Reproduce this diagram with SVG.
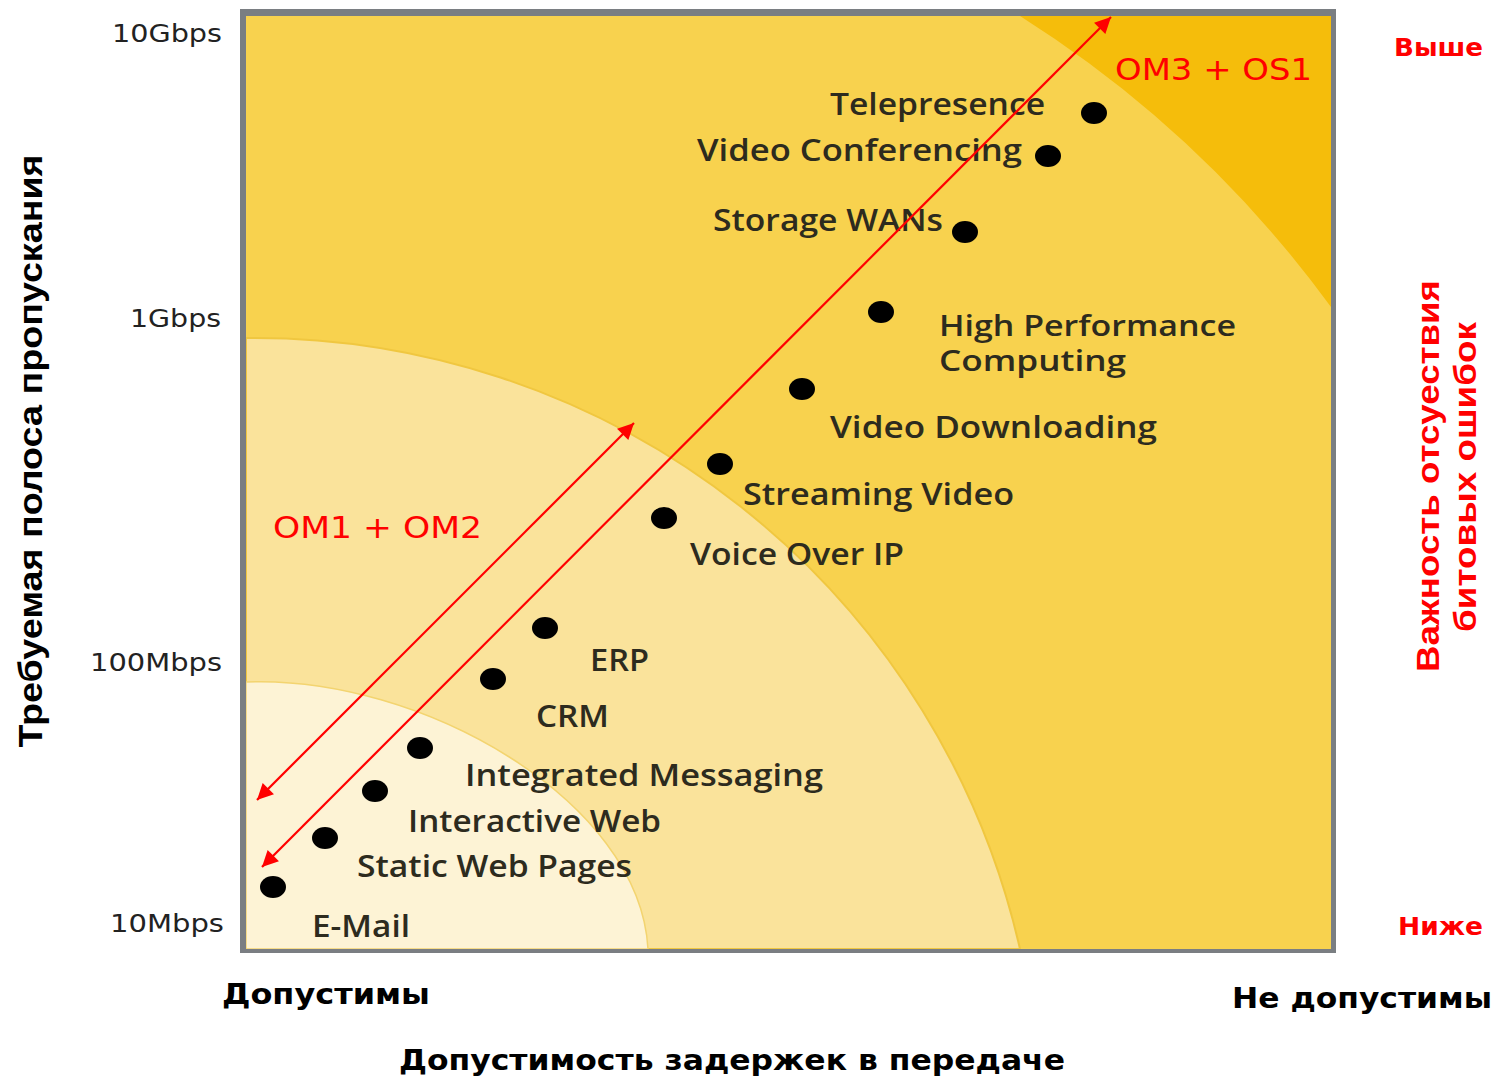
<svg xmlns="http://www.w3.org/2000/svg" width="1495" height="1077" viewBox="0 0 1495 1077">
<style>
.lbl{font-family:"Open Sans","Liberation Sans",sans-serif;font-weight:600;font-size:31px;fill:#2d2b1e}
.lbs{font-size:28px}
.tick{font-family:"DejaVu Sans","Liberation Sans",sans-serif;font-size:24px;fill:#222}
.ax{font-family:"Liberation Sans","DejaVu Sans",sans-serif;font-weight:bold;font-size:34px;fill:#000}
.axr{font-family:"Liberation Sans","DejaVu Sans",sans-serif;font-weight:bold;font-size:32px;fill:#ff0000}
.bt{font-family:"DejaVu Sans","Liberation Sans",sans-serif;font-weight:bold;font-size:29px;fill:#000}
.rb{font-family:"DejaVu Sans","Liberation Sans",sans-serif;font-weight:bold;font-size:24px;fill:#ff0000}
.om{font-family:"DejaVu Sans","Liberation Sans",sans-serif;font-size:30px;fill:#ff0000}
.dot{fill:#000}
.arr{stroke:#ff0000;stroke-width:2.2;fill:none;marker-start:url(#ah);marker-end:url(#ah)}
</style>
<defs>
<marker id="ah" viewBox="0 0 10 10" refX="10" refY="5" markerWidth="22" markerHeight="16" markerUnits="userSpaceOnUse" orient="auto-start-reverse">
<path d="M0,0 L10,5 L0,10 z" fill="#ff0000"/>
</marker>
<clipPath id="plot"><rect x="246" y="16" width="1085" height="933"/></clipPath>
</defs>
<rect width="1495" height="1077" fill="#ffffff"/>
<g id="chart">
<rect x="240" y="9" width="1096" height="944" fill="#7a7e82"/>
<g clip-path="url(#plot)">
<rect x="246" y="16" width="1085" height="933" fill="#f8d24e"/>
<path d="M1020,16 A1137,1137 0 0 1 1331,307 L1331,16 Z" fill="#f5bd0b"/>
<path d="M246,338 A785,785 0 0 1 1020,949 L246,949 Z" fill="#fae39b" stroke="#f0c740" stroke-width="2"/>
<path d="M246,682 C420,675 640,800 648,949 L246,949 Z" fill="#fdf3d5" stroke="#f3d470" stroke-width="1.5"/>
</g>
</g>
<g id="yticks">
<text class="tick" x="222" y="42" text-anchor="end" textLength="110" lengthAdjust="spacingAndGlyphs">10Gbps</text>
<text class="tick" x="221" y="327" text-anchor="end" textLength="91" lengthAdjust="spacingAndGlyphs">1Gbps</text>
<text class="tick" x="222" y="671" text-anchor="end" textLength="132" lengthAdjust="spacingAndGlyphs">100Mbps</text>
<text class="tick" x="224" y="932" text-anchor="end" textLength="114" lengthAdjust="spacingAndGlyphs">10Mbps</text>
</g>
<text class="ax" transform="translate(42,451) rotate(-90)" text-anchor="middle" textLength="593" lengthAdjust="spacingAndGlyphs">Требуемая полоса пропускания</text>
<text class="axr" transform="translate(1439,476) rotate(-90)" text-anchor="middle" textLength="392" lengthAdjust="spacingAndGlyphs">Важность отсуествия</text>
<text class="axr" transform="translate(1476,477) rotate(-90)" text-anchor="middle" textLength="310" lengthAdjust="spacingAndGlyphs">битовых ошибок</text>
<text class="rb" x="1394" y="56" textLength="89" lengthAdjust="spacingAndGlyphs">Выше</text>
<text class="rb" x="1398" y="935" textLength="85" lengthAdjust="spacingAndGlyphs">Ниже</text>
<text class="bt" x="222" y="1004" textLength="208" lengthAdjust="spacingAndGlyphs">Допустимы</text>
<text class="bt" x="1232" y="1008" textLength="260" lengthAdjust="spacingAndGlyphs">Не допустимы</text>
<text class="bt" x="399" y="1070" textLength="666" lengthAdjust="spacingAndGlyphs">Допустимость задержек в передаче</text>
<g id="n-telepresence"><ellipse class="dot" cx="1094" cy="113" rx="13" ry="11"/><text class="lbl" x="830" y="115" textLength="215" lengthAdjust="spacingAndGlyphs">Telepresence</text></g>
<g id="n-videoconf"><ellipse class="dot" cx="1048" cy="156" rx="13" ry="11"/><text class="lbl" x="697" y="161" textLength="325" lengthAdjust="spacingAndGlyphs">Video Conferencing</text></g>
<g id="n-storage"><ellipse class="dot" cx="965" cy="232" rx="13" ry="11"/><text class="lbl" x="713" y="231" textLength="230" lengthAdjust="spacingAndGlyphs">Storage WANs</text></g>
<g id="n-hpc"><ellipse class="dot" cx="881" cy="312" rx="13" ry="11"/><text class="lbl lbs" x="939" y="336" textLength="297" lengthAdjust="spacingAndGlyphs">High Performance</text><text class="lbl lbs" x="939" y="371" textLength="187" lengthAdjust="spacingAndGlyphs">Computing</text></g>
<g id="n-videodl"><ellipse class="dot" cx="802" cy="389" rx="13" ry="11"/><text class="lbl" x="830" y="438" textLength="327" lengthAdjust="spacingAndGlyphs">Video Downloading</text></g>
<g id="n-streaming"><ellipse class="dot" cx="720" cy="464" rx="13" ry="11"/><text class="lbl" x="743" y="505" textLength="271" lengthAdjust="spacingAndGlyphs">Streaming Video</text></g>
<g id="n-voip"><ellipse class="dot" cx="664" cy="518" rx="13" ry="11"/><text class="lbl" x="690" y="565" textLength="214" lengthAdjust="spacingAndGlyphs">Voice Over IP</text></g>
<g id="n-erp"><ellipse class="dot" cx="545" cy="628" rx="13" ry="11"/><text class="lbl" x="590" y="671" textLength="59" lengthAdjust="spacingAndGlyphs">ERP</text></g>
<g id="n-crm"><ellipse class="dot" cx="493" cy="679" rx="13" ry="11"/><text class="lbl" x="536" y="727" textLength="73" lengthAdjust="spacingAndGlyphs">CRM</text></g>
<g id="n-intmsg"><ellipse class="dot" cx="420" cy="748" rx="13" ry="11"/><text class="lbl" x="465" y="786" textLength="358" lengthAdjust="spacingAndGlyphs">Integrated Messaging</text></g>
<g id="n-intweb"><ellipse class="dot" cx="375" cy="791" rx="13" ry="11"/><text class="lbl" x="408" y="832" textLength="253" lengthAdjust="spacingAndGlyphs">Interactive Web</text></g>
<g id="n-static"><ellipse class="dot" cx="325" cy="838" rx="13" ry="11"/><text class="lbl" x="357" y="877" textLength="275" lengthAdjust="spacingAndGlyphs">Static Web Pages</text></g>
<g id="n-email"><ellipse class="dot" cx="273" cy="887" rx="13" ry="11"/><text class="lbl" x="312" y="937" textLength="98" lengthAdjust="spacingAndGlyphs">E-Mail</text></g>
<g id="connectors">
<line class="arr" x1="634" y1="423" x2="257" y2="800"/>
<line class="arr" x1="1111" y1="17" x2="262" y2="867"/>
</g>
<g id="fiber-labels">
<text class="om" x="273" y="538" textLength="209" lengthAdjust="spacingAndGlyphs">OM1 + OM2</text>
<text class="om" x="1115" y="80" textLength="197" lengthAdjust="spacingAndGlyphs">OM3 + OS1</text>
</g>
</svg>
